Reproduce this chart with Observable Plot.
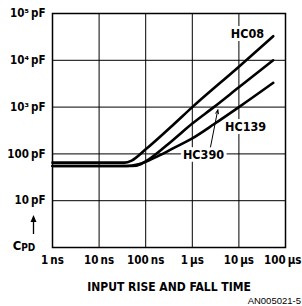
<!DOCTYPE html>
<html>
<head>
<meta charset="utf-8">
<script src="https://cdn.jsdelivr.net/npm/d3@7"></script>
<script src="https://cdn.jsdelivr.net/npm/@observablehq/plot@0.6"></script>
<style>
  html, body { margin: 0; padding: 0; background: #fff; }
  #chart svg { display: block; }
</style>
</head>
<body>
<div id="chart"></div>
<script>
// Input rise/fall time (ns) vs power-dissipation capacitance (pF)
const hc08Time = [1, 35, 50, 100, 376, 1000, 10000, 54500];
const hc08Cpd  = [65, 65, 72, 125, 405, 1000, 7300, 32700];

const hc390Time = [1, 50, 80, 100, 376, 1000, 2900, 10000, 54500];
const hc390Cpd  = [55, 55, 61, 69, 194, 445, 1000, 2650, 10000];

const hc139Time = [1, 40, 70, 100, 208, 376, 1000, 3000, 10000, 54500];
const hc139Cpd  = [55, 55, 60, 68, 95, 130, 215, 440, 1000, 3300];

const xTicks = [1, 10, 100, 1000, 10000, 100000];
const xTickLabels = ["1\u2009ns", "10\u2009ns", "100\u2009ns", "1\u2009μs", "10\u2009μs", "100\u2009μs"];
const yTicks = [10, 100, 1000, 10000, 100000];
const yTickLabels = ["10\u2009pF", "100\u2009pF", "10³\u2009pF", "10⁴\u2009pF", "10⁵\u2009pF"];

const labelNames = ["HC08", "HC139", "HC390"];
const labelTime  = [15300, 13900, 1740];
const labelCpd   = [36500, 372, 92.5];

const arrowFrom = {t: 2376, c: 118};
const arrowTo   = {t: 3525, c: 875};

const xTitle = "INPUT RISE AND FALL TIME";
const caption = "AN005021-5";

const series = [
  {name: "HC08", t: hc08Time, c: hc08Cpd},
  {name: "HC390", t: hc390Time, c: hc390Cpd},
  {name: "HC139", t: hc139Time, c: hc139Cpd}
];
const rows = series.flatMap(s => s.t.map((t, i) => ({series: s.name, t, c: s.c[i]})));
const labels = labelNames.map((n, i) => ({name: n, t: labelTime[i], c: labelCpd[i]}));
const xTickRows = xTicks.map((v, i) => ({v, label: xTickLabels[i]}));
const yTickRows = yTicks.map((v, i) => ({v, label: yTickLabels[i]}));
const lastTick = xTickRows.length - 1;

const FONT = "'DejaVu Sans Condensed', 'Liberation Sans Narrow', 'Arial Narrow', sans-serif";
const xTickStyle = {x: "v", text: "label", frameAnchor: "bottom", dy: 8, fontSize: 11.5, fontWeight: "bold",
  fill: "#000", lineAnchor: "top", letterSpacing: -0.3};

const chart = Plot.plot({
  width: 302,
  height: 306,
  marginLeft: 52,
  marginRight: 17,
  marginTop: 13,
  marginBottom: 59,
  style: {fontFamily: FONT, fontSize: "12px", color: "#000", background: "#fff"},
  x: {type: "log", domain: [1, 100000], axis: null},
  y: {type: "log", domain: [1, 100000], axis: null},
  marks: [
    Plot.gridX(xTicks.slice(1, -1), {stroke: "#000", strokeOpacity: 1, strokeWidth: 1}),
    Plot.gridY(yTicks.slice(0, -1), {stroke: "#000", strokeOpacity: 1, strokeWidth: 1}),
    Plot.frame({stroke: "#000", strokeWidth: 1.5}),
    Plot.text(xTickRows.slice(0, lastTick), xTickStyle),
    Plot.text(xTickRows.slice(lastTick), {...xTickStyle, textAnchor: "end", dx: 16}),
    Plot.text(yTickRows, {y: "v", text: "label", frameAnchor: "left", dx: -7, textAnchor: "end", fontSize: 11.5,
      fontWeight: "bold", fill: "#000", letterSpacing: -0.3}),
    Plot.line(rows, {x: "t", y: "c", z: "series", stroke: "#000", strokeWidth: 2.6, curve: "monotone-x"}),
    Plot.arrow([0], {x1: () => arrowFrom.t, y1: () => arrowFrom.c, x2: () => arrowTo.t, y2: () => arrowTo.c,
      stroke: "#000", strokeWidth: 1, headLength: 6, headAngle: 40}),
    Plot.text(labels, {x: "t", y: "c", text: "name", fontSize: 12.5, fontWeight: "bold",
      fill: "#000", stroke: "#fff", strokeWidth: 6, paintOrder: "stroke"}),
    Plot.text([xTitle], {frameAnchor: "bottom", dy: 43, fontSize: 12, fontWeight: "bold", fill: "#000", letterSpacing: -0.2})
  ]
});

const svg = d3.select(chart);
// Y axis variable label (C_PD) with arrow
const g = svg.append("g").attr("font-family", FONT).attr("font-weight", "bold").attr("fill", "#000");
const cpd = g.append("text").attr("x", 24).attr("y", 250).attr("font-size", 13);
cpd.append("tspan").text("C");
cpd.append("tspan").attr("font-size", 10).attr("dy", 1).text("PD");
g.append("line").attr("x1", 33.5).attr("x2", 33.5).attr("y1", 234).attr("y2", 219)
  .attr("stroke", "#000").attr("stroke-width", 1.3);
g.append("path").attr("d", "M30.5,222 L33.5,215 L36.5,222 Z").attr("fill", "#000");
// caption
svg.append("text").attr("x", 301).attr("y", 304).attr("text-anchor", "end")
  .attr("font-family", "'Liberation Sans', Arial, sans-serif").attr("font-size", 9.5)
  .attr("fill", "#000").text(caption);

document.getElementById("chart").appendChild(chart);
</script>
</body>
</html>
